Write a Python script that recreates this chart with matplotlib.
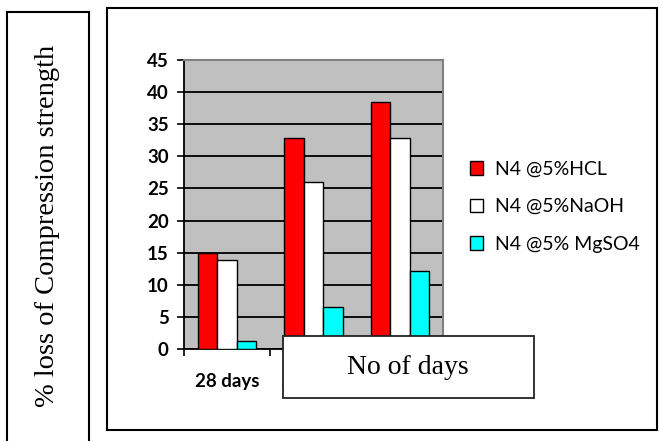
import matplotlib
matplotlib.use("Agg")
import matplotlib.pyplot as plt
from matplotlib.patches import Rectangle
import numpy as np

# % loss of compressive strength after acid/alkali/sulphate exposure
days = ["28 days", "56 days", "90 days"]
series = ["N4 @5%HCL", "N4 @5%NaOH", "N4 @5% MgSO4"]
hcl = [15.0, 32.8, 38.4]
naoh = [13.8, 26.0, 32.8]
mgso4 = [1.2, 6.6, 12.2]
colors = ["#FF0000", "#FFFFFF", "#00FFFF"]

W, H = 659, 441


def fx(px):
    return px / W


def fy(py):
    return 1 - py / H


fig = plt.figure(figsize=(W / 100, H / 100), dpi=100)
ax = fig.add_axes([fx(184), fy(349), fx(443) - fx(184), fy(60) - fy(349)])
ax.set_facecolor("#C0C0C0")

x = np.arange(len(days))
w = 0.225
for i, (vals, c, name) in enumerate(zip([hcl, naoh, mgso4], colors, series)):
    ax.bar(x + (i - 1) * w, vals, w, color=c, edgecolor="black",
           linewidth=1.0, label=name, zorder=3)

ax.set_xlim(-0.5, 2.5)
ax.set_ylim(0, 45)
ax.set_yticks(range(0, 46, 5))
ax.yaxis.grid(True, color="black", linewidth=1.3, zorder=1)
ax.set_axisbelow(True)

ax.set_xticks(x)
ax.set_xticklabels(days)
ax.set_xticks([-0.5, 0.5, 1.5, 2.5], minor=True)
ax.tick_params(axis="x", which="major", length=0, pad=17)
ax.tick_params(axis="x", which="minor", length=5, width=1.2, direction="out")
ax.tick_params(axis="y", length=5, width=1.2, direction="out", pad=6)
for lab in ax.get_xticklabels() + ax.get_yticklabels():
    lab.set_fontfamily("Lato")
    lab.set_fontweight("bold")
    lab.set_fontsize(13.5)

for s in ["top", "right"]:
    ax.spines[s].set_color("#808080")
    ax.spines[s].set_linewidth(1.5)
for s in ["left", "bottom"]:
    ax.spines[s].set_color("black")
    ax.spines[s].set_linewidth(1.3)

leg = ax.legend(loc="upper left", bbox_to_anchor=(fx(462), fy(153)),
                bbox_transform=fig.transFigure, frameon=False,
                prop={"family": "Lato", "size": 14},
                handlelength=0.7, handleheight=0.7, handletextpad=0.6,
                labelspacing=1.05, borderaxespad=0)

# outer chart frame and the boxed axis titles
fig.add_artist(Rectangle((fx(107), fy(430)), fx(657) - fx(107), fy(8) - fy(430),
                         transform=fig.transFigure, fill=False,
                         edgecolor="black", linewidth=1.5))
fig.add_artist(Rectangle((fx(7), fy(450)), fx(89) - fx(7), fy(12) - fy(450),
                         transform=fig.transFigure, fill=False,
                         edgecolor="black", linewidth=1.5))
fig.text(fx(48), fy(226), "% loss of Compression strength", rotation=90,
         ha="center", va="center", family="Liberation Serif", fontsize=20.5)

fig.add_artist(Rectangle((fx(283), fy(398)), fx(534) - fx(283), fy(336) - fy(398),
                         transform=fig.transFigure, facecolor="white",
                         edgecolor="#222222", linewidth=1.3, zorder=5))
fig.text(fx(408), fy(367), "No of days", ha="center", va="center",
         family="Liberation Serif", fontsize=20, zorder=6)

fig.savefig("out.png", dpi=100)
